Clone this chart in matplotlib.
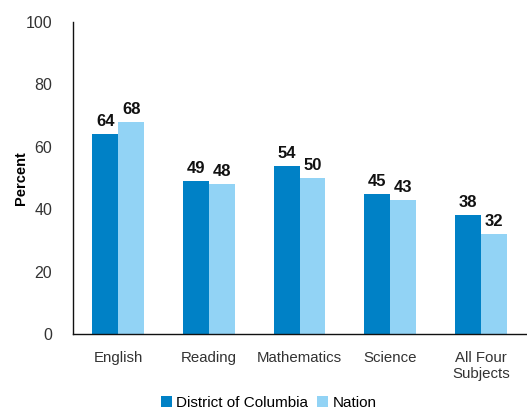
import numpy as np
from matplotlib import pyplot as plt

subjects = ["English", "Reading", "Mathematics", "Science", "All Four\nSubjects"]
dc_values = [64, 49, 54, 45, 38]
nation_values = [68, 48, 50, 43, 32]
y_ticks = [0, 20, 40, 60, 80, 100]

DARK = "#0081C6"
LIGHT = "#92D3F5"

plt.rcParams["font.family"] = ["Liberation Sans", "DejaVu Sans"]

fig = plt.figure(figsize=(5.27, 4.11), dpi=100)
ax = fig.add_axes([0.1385, 0.1873, 0.86, 0.7592])

x = np.arange(len(subjects))
w = 0.285
b1 = ax.bar(x - w / 2, dc_values, w, color=DARK, label="District of Columbia")
b2 = ax.bar(x + w / 2, nation_values, w, color=LIGHT, label="Nation")

for bars in (b1, b2):
    for r in bars:
        ax.text(r.get_x() + r.get_width() / 2, r.get_height() + 1.6, f"{r.get_height():.0f}",
                ha="center", va="bottom", fontsize=12, fontweight="bold", color="#111111")

ax.set_xlim(-0.5, len(subjects) - 0.5)
ax.set_ylim(0, 100)
ax.set_yticks(y_ticks)
ax.set_xticks(x)
ax.set_xticklabels(subjects)
ax.tick_params(axis="x", length=0, labelsize=10.8, colors="#333333", pad=12)
ax.tick_params(axis="y", length=0, labelsize=11.5, colors="#333333", pad=15)
for s in ("top", "right"):
    ax.spines[s].set_visible(False)
for s in ("left", "bottom"):
    ax.spines[s].set_color("#111111")
    ax.spines[s].set_linewidth(1.0)

ax.set_ylabel("Percent", fontsize=10.5, fontweight="bold", labelpad=-2)

fig.legend(handles=[b1, b2], loc="center", bbox_to_anchor=(0.51, 0.02), ncol=2, frameon=False,
           fontsize=11, handlelength=0.7, handleheight=0.7, handletextpad=0.3, columnspacing=0.6)

fig.savefig("out.png", dpi=100)
